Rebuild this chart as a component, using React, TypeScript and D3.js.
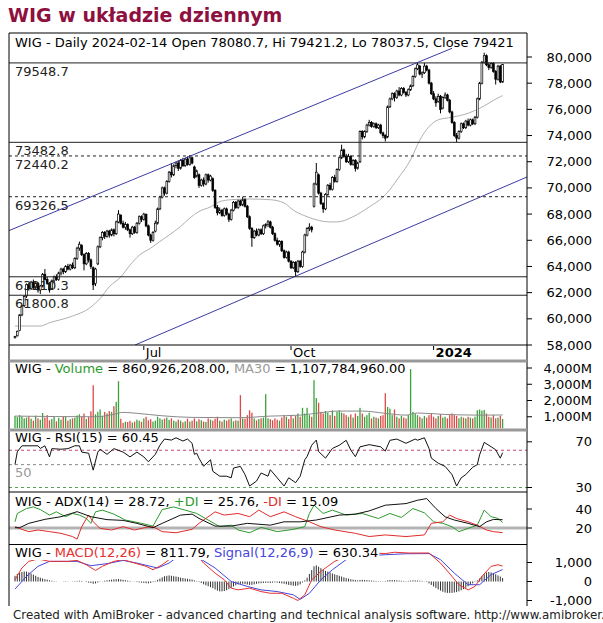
import React, { useEffect, useRef } from 'react';
import * as d3 from 'd3';

// ---- price data (daily candles) ----
const opens = [58550,58700,59100,60300,61000,61750,62600,62300,62800,62400,
 62700,62200,62500,63400,63000,62700,62300,62900,63200,63000,
 63500,63800,63600,64000,63800,64100,63900,64600,65400,65600,
 64900,64200,65000,64500,63900,62700,64200,65500,66200,66600,
 66300,66700,66400,66800,66500,67400,67900,67300,67000,67200,
 66800,66500,67000,66600,67300,67800,67600,68000,67100,66400,
 66000,66700,67300,68400,69300,70000,69600,70500,71200,71000,
 71700,71900,71500,72100,71700,72200,71800,72300,71600,70900,
 71000,70200,70600,70300,71000,70600,70700,69800,68500,68100,
 68300,67900,68400,68000,67600,68300,68900,68500,69000,68700,
 69100,68600,67800,66900,66200,66700,66400,66800,66500,67100,
 67200,67400,67000,66500,66000,65700,65900,65200,64700,65100,
 64400,63900,64300,63600,64400,64000,65100,66400,66900,67000,
 68600,70300,71000,69600,68800,68400,69500,70200,69900,70800,
 70500,71400,72300,72900,72400,72000,72400,71800,72100,71500,
 72000,74300,73900,74300,74800,75000,74700,74900,74600,74800,
 74200,74000,73900,76200,76800,77200,76900,77400,77100,77600,
 77300,77100,77500,77800,78500,79100,79300,78700,78800,79300,
 79000,78000,77200,76800,76600,77000,76100,76900,77100,76700,
 75800,75000,74000,73800,74300,74900,74600,75100,74800,75200,
 74900,75400,76800,78000,79600,80100,79400,79200,79500,78900,
 78300,79300,78080.7];
const highs = [58700,59100,60350,61050,61800,62700,62750,62900,63000,62800,
 62800,62600,63500,63800,63200,62800,63000,63300,63400,63600,
 63900,63900,64100,64200,64200,64300,64700,65500,65900,65700,
 65000,65100,65100,64600,64000,63900,65600,66300,66700,66700,
 66800,66800,66900,66900,67500,68300,68000,67500,67400,67300,
 66900,67100,67100,67400,67900,67900,68100,68000,67200,66500,
 66700,67500,68500,69400,70100,70100,70600,71300,71900,71800,
 72000,72100,72200,72300,72300,72400,72500,72400,71700,71400,
 71100,70700,70800,71100,71100,71000,70800,69900,68700,68500,
 68400,68500,68500,68100,68400,69000,69000,69100,69100,69330,
 69200,68700,67900,67000,66800,66900,66900,66900,67200,67300,
 67550,67500,67100,66600,66200,66000,66000,65300,65200,65200,
 64500,64400,64400,64500,64500,65200,66500,67000,67300,67100,
 70400,71900,71100,69700,68900,69600,70300,70400,70900,71000,
 71500,72400,73300,73000,72600,72600,72500,72200,72200,72000,
 74400,74400,74400,74900,75200,75100,75000,75000,74900,74900,
 74300,74100,76300,76900,77300,77300,77500,77700,77700,77700,
 77400,77600,77900,78600,79200,79550,79400,78900,79550,79400,
 79100,78100,77400,77000,77200,77100,77000,77300,77200,76800,
 75900,75100,74200,74400,75000,75000,75200,75300,75300,75300,
 75500,76900,78100,79700,80330,80200,79600,79600,79600,79000,
 79400,79400,79421.2];
const lows = [58500,58650,59050,60200,60900,61600,62150,62200,62300,62200,
 62000,61900,62400,62900,62600,62000,62200,62700,62900,62900,
 63300,63400,63500,63700,63700,63800,63800,64500,65200,64800,
 63700,64100,64300,63800,62200,62500,64100,65400,66000,66100,
 66200,66200,66300,66300,66400,67300,67200,66900,66800,66700,
 66200,66400,66500,66500,67200,67400,67500,67000,66300,65800,
 65900,66600,67200,68300,69200,69400,69500,70400,70800,70900,
 71500,71300,71400,71600,71600,71700,71700,71800,70700,70800,
 70000,70100,70100,70200,70400,70500,69700,68400,67900,68000,
 67800,67800,67900,67400,67500,68200,68400,68400,68600,68600,
 68500,67700,66800,65500,66100,66300,66300,66400,66400,66900,
 67000,66900,66400,65900,65600,65500,65100,64600,64600,64300,
 63800,63800,63250,63500,63900,63900,65000,66300,66700,66600,
 68500,70200,69500,68700,68100,68300,69400,69800,69800,70400,
 70400,71300,72200,72300,71900,71900,71700,71700,71250,71400,
 71900,73700,73800,74200,74700,74600,74600,74500,74500,74100,
 73800,73550,73800,76100,76700,76600,76800,77000,77000,77200,
 76950,77000,77400,77700,78400,79000,78600,78400,78700,78900,
 77900,77100,76700,76200,76500,75700,76000,76800,76600,75700,
 74900,73900,73500,73700,74200,74500,74500,74700,74700,74800,
 74800,75300,76700,77900,79500,79300,79000,79100,78800,77900,
 78200,78000,78037.5];
const closes = [58650,59050,60300,61000,61700,62600,62300,62800,62400,62700,
 62200,62500,63400,63000,62700,62200,62900,63200,63000,63500,
 63800,63600,64000,63800,64100,63900,64600,65400,65700,64900,
 64200,65000,64500,64000,62600,63800,65500,66200,66600,66300,
 66700,66400,66800,66500,67400,68000,67300,67000,67200,66800,
 66500,67000,66600,67300,67800,67600,68000,67100,66400,66000,
 66600,67300,68400,69300,70000,69600,70500,71200,71000,71700,
 71900,71500,72100,71700,72200,71800,72300,71900,70800,71300,
 70200,70600,70300,71000,70600,70900,69800,68500,68100,68300,
 67900,68400,68000,67600,68300,68900,68500,69000,68700,69100,
 68600,67800,66900,66200,66700,66400,66800,66500,67100,67200,
 67400,67000,66500,66000,65700,65900,65200,64700,65100,64400,
 63900,64300,63600,64400,64000,65100,66400,66900,67000,66800,
 70300,71200,69600,68800,68400,69500,70200,69900,70800,70500,
 71400,72300,72900,72400,72000,72400,71800,72100,71500,71900,
 74300,73900,74300,74800,75000,74700,74900,74600,74800,74200,
 74000,73800,76200,76800,77200,76900,77400,77100,77600,77300,
 77100,77500,77800,78500,79100,79400,78700,78800,79300,79000,
 78000,77200,76800,76500,77000,76000,76900,77100,76700,75800,
 75000,74000,73800,74300,74900,74600,75100,74800,75200,74900,
 75400,76800,78000,79600,80100,79400,79200,79500,78900,78300,
 79300,78100,79421];

// volume in millions
const volumes = [1050,980,1100,1020,900,950,1010,880,760,1070,
 900,820,1230,950,1100,780,860,1050,720,930,
 820,990,1010,760,850,900,940,1080,1150,1010,
 1200,860,980,1340,2940,1150,1300,1450,1050,1300,
 1200,1350,1300,1650,1920,3190,880,620,700,680,
 750,640,700,820,760,690,900,1000,780,850,
 700,760,1000,900,820,880,950,800,900,760,
 700,820,760,650,720,880,700,760,900,720,
 850,780,700,680,900,820,760,880,1000,760,
 700,820,760,840,900,720,780,760,2330,900,
 880,1100,1400,1250,900,780,860,900,950,2390,
 900,850,780,900,820,760,950,1100,1000,860,
 1100,900,1050,1200,1000,1550,1200,1550,1100,1000,
 3250,2150,1860,1300,1200,1350,1250,1100,1400,1050,
 1300,1400,1250,1200,1100,1000,1150,950,1200,1050,
 1550,1200,1000,1100,1250,900,1000,950,900,1050,
 1100,2450,1600,1500,1100,1450,1000,900,1050,950,
 900,1100,3930,1300,1200,1100,1000,900,1050,950,
 1100,1200,1000,900,1050,1150,950,1000,900,1100,
 1200,1100,1050,900,1000,950,900,1000,950,900,
 1000,1400,1450,1380,1420,1200,1000,950,1100,900,
 950,1050,861];
const volMaIdx = [0,35,43,47,53,64,77,97,111,124,133,141,151,161,170,175,186,202,212];
const volMaVal = [1040,1000,1150,1270,1210,1060,960,940,1040,1100,1250,1350,1350,1210,1100,1230,1150,1100,1108];

// price moving average
const maIdx = [0,11,15,24,33,37,41,46,50,54,59,63,67,72,76,80,85,89,94,102,111,117,121,127,137,140,147,154,160,164,166,172,176,180,184,190,197,202,211,212];
const maVal = [59450,59450,59700,60150,60900,61550,62450,63200,64100,64850,65400,65900,66400,67050,67700,68200,68550,68950,69100,69150,69100,68850,68300,67800,67400,67400,67800,68550,69300,70100,70600,72150,73650,74680,75200,75400,75700,76080,76970,77050];

// horizontal levels
const levelValues = [79548.7, 73482.8, 72440.2, 69326.5, 63210.3, 61800.8];
const levelLabels = ['79548.7', '73482.8', '72440.2', '69326.5', '63210.3', '61800.8'];
const levelDashed = [false, false, true, true, false, false];

// trend channel (bar index, price)
const channelUpper = [[-2.6, 66740], [190, 80665]];
const channelLower = [[52.2, 58000], [222.6, 70833]];

const priceTicks = [58000,60000,62000,64000,66000,68000,70000,72000,74000,76000,78000,80000];
const volTicks = [1000, 2000, 3000, 4000];
const rsiTicks = [70, 30];
const adxTicks = [40, 20];
const macdTicks = [1000, 0, -1000];
const macdTickLabels = ['1,000', '0', '-1,000'];
const dateTickIdx = [56, 120, 182];
const dateTickLabels = ['Jul', 'Oct', '2024'];

// RSI(15)
const rsiIdx = [0,1,3,10,11,13,15,16,20,23,26,28,29,32,34,36,37,40,43,47,50,53,56,58,61,63,65,68,70,73,75,77,78,79,80,82,85,86,89,92,94,95,98,100,102,105,107,110,111,114,117,119,122,124,126,127,129,131,132,135,138,141,144,146,148,150,154,159,161,163,166,170,174,175,178,180,181,184,187,190,192,194,196,199,201,202,204,207,209,211,212];
const rsiVal = [50.2,61.2,66.5,66.5,64.2,66.5,56.8,64,63.5,64,66.5,66.5,61,60,45.2,61,63.5,59,64,61,56.8,61,56.8,52.5,59,67,72.4,71.5,73.5,70.7,72.4,68.7,59,60,55.6,48.6,54.3,44.2,39.9,39.9,38.5,47,48.5,41.3,31.3,35.6,42.7,39.9,45.6,38.5,31.3,38.5,34.2,39.9,54.3,57.1,67,71.5,61.5,55.7,64.2,67,71.3,62.7,57,65.6,67.5,65.6,61.9,71.3,72.4,68.7,72.4,71.4,73.5,64.2,55.7,51.3,48.5,41.3,31.3,38.5,41.3,47.7,50,58.6,69.5,65.7,63,55.7,60.45];

// ADX(14), +DI, -DI
const adxIdx = [0,2,6,13,20,27,33,40,47,53,60,64,72,77,80,87,94,101,111,117,124,131,141,148,154,161,170,175,179,183,187,191,197,202,205,208,212];
const adxVal = [20.3,20.3,24.9,29.1,31.9,37.2,31.9,28.8,28,24.9,20.3,24.9,33.6,34.6,30.1,22,22,24.9,23,26.5,26.5,28.4,33.6,34.6,38,44,45.7,49.2,51,40.5,31.8,28.4,24.9,21.4,26.5,29,28.72];
const pdiIdx = [0,1,5,8,11,15,18,22,25,28,31,33,35,38,43,48,55,60,64,69,74,79,84,89,94,97,102,107,114,121,126,128,130,134,138,144,151,158,163,168,173,178,182,186,190,193,197,201,204,207,210,212];
const pdiVal = [26.5,35.3,40.5,42.2,39.4,33.6,37,31.9,35.3,33.6,30,24.9,37,38.8,34.6,28.4,24.9,22,39.4,42.2,38.8,35.3,28.4,21.4,23,17.9,15,20.7,16.2,18.6,21.4,35.3,44,35.3,38.8,33.6,35.3,30,35.3,31.1,40.5,36,26.5,24.9,21.4,16.2,19.6,23,38.8,31.9,30.1,25.76];
const mdiIdx = [0,3,6,10,15,20,25,27,29,32,34,37,42,47,52,57,60,64,70,77,80,87,91,97,102,106,111,117,122,128,133,139,148,154,161,170,178,181,186,189,192,197,201,205,208,212];
const mdiVal = [21.4,18.6,16.2,17.9,16.2,14.4,11,8.3,21.4,33.6,26.5,19.6,17.9,21.4,17.9,20.7,21.4,16.2,15,18.6,24.9,37,33.6,35.3,31.9,38.8,31.9,37,31.9,26.5,21.4,17.9,14.4,11,12.7,11,12.7,24.9,26.5,33.6,30,26.5,23,17.9,16.2,15.09];

// MACD(12,26), Signal(12,26,9), histogram
const macdIdx = [0,3,6,10,15,23,27,31,35,38,43,47,52,57,60,64,67,69,72,75,79,82,87,91,94,97,102,107,111,116,121,123,126,129,133,136,139,144,150,156,161,165,171,180,185,190,193,197,200,203,207,210,212];
const macdVal = [90,710,1060,1185,1060,1060,1110,880,580,800,1060,1150,970,800,620,880,1150,1320,1550,1600,1410,970,440,90,-350,-440,-350,-530,-620,-620,-880,-1000,-700,90,530,800,1060,1330,1450,1500,1470,1540,1500,1500,970,270,-170,-440,-260,270,800,880,811.79];
const sigIdx = [0,5,10,15,27,33,40,47,53,62,67,70,75,80,87,94,101,107,114,121,124,128,133,138,144,152,161,170,180,185,191,197,202,207,212];
const sigVal = [-400,270,800,1060,1060,830,940,1110,970,710,970,1240,1400,1240,710,0,-260,-440,-530,-700,-940,-620,90,620,1150,1350,1410,1460,1470,1150,440,-170,-170,360,630.34];
const hist = [300,400,450,500,530,520,480,420,360,300,
 240,200,160,120,100,60,40,20,10,0,
 0,10,20,10,0,10,20,30,40,30,
 0,-30,-60,-80,-120,-100,-60,-20,10,40,
 60,80,100,110,120,130,110,90,70,50,
 30,10,-10,-30,-50,-60,-80,-90,-100,-80,
 -30,30,90,150,220,280,300,320,300,280,
 260,240,200,180,160,140,120,100,60,20,
 -30,-80,-150,-200,-250,-300,-350,-420,-480,-520,
 -520,-500,-460,-400,-330,-260,-200,-150,-120,-120,
 -140,-160,-180,-180,-150,-120,-100,-90,-80,-70,
 -70,-80,-60,-50,-60,-80,-100,-120,-150,-180,
 -200,-220,-230,-210,-150,-50,60,200,400,600,
 800,850,780,700,620,560,520,480,420,380,
 340,300,260,220,180,150,120,100,80,60,
 80,90,80,70,60,50,40,30,20,20,
 10,30,60,80,80,70,60,50,40,30,
 20,30,50,60,60,50,40,30,10,-30,
 -100,-180,-260,-340,-420,-480,-540,-580,-600,-600,
 -600,-580,-560,-520,-460,-400,-330,-250,-180,-100,
 -20,60,160,280,380,470,500,480,440,380,
 320,260,181];

const FONT = '"DejaVu Sans", Verdana, sans-serif';

export default function App() {
  const ref = useRef<SVGSVGElement | null>(null);

  useEffect(() => {
    const root = d3.select(ref.current);
    root.selectAll('*').remove();
    const svg = root.append('g').attr('font-family', FONT);

    const L = 9, R = 527;
    const n = closes.length;
    const x = d3.scaleLinear().domain([0, n - 1]).range([15, 502.6]);
    const yP = d3.scaleLinear().domain([58000, 80000]).range([345, 57]);
    const yV = d3.scaleLinear().domain([0, 4000]).range([433, 368]);
    const yR = d3.scaleLinear().domain([30, 70]).range([487.5, 441.8]);
    const yA = d3.scaleLinear().domain([20, 40]).range([528, 509]);
    const yM = d3.scaleLinear().domain([-1000, 1000]).range([600.5, 562.5]);

    const defs = root.append('defs');
    const clip = (id: string, y0: number, y1: number) =>
      defs.append('clipPath').attr('id', id).append('rect')
        .attr('x', L).attr('y', y0).attr('width', R - L).attr('height', y1 - y0);
    clip('cMain', 33, 345);
    clip('cVol', 362.5, 428.5);
    clip('cRsi', 431.5, 491.5);
    clip('cAdx', 492.5, 544);
    clip('cMacd', 545, 606);

    const header = (g: any, yb: number, parts: [string, string][], bg: boolean) => {
      const t = g.append('text').attr('x', 15).attr('y', yb).attr('font-size', 13)
        .style('white-space', 'pre');
      parts.forEach(([s, c]) => t.append('tspan').attr('fill', c).text(s));
      if (bg) {
        const b = (t.node() as SVGTextElement).getBBox();
        g.insert('rect', () => t.node()).attr('x', b.x - 1).attr('y', b.y)
          .attr('width', b.width + 2).attr('height', b.height).attr('fill', '#fff');
      }
    };

    // Title
    svg.append('text').attr('x', 8).attr('y', 22).attr('font-size', 19)
      .attr('font-weight', 'bold').attr('fill', '#8e1040').text('WIG w układzie dziennym');

    // ===== Main price panel =====
    const gM = svg.append('g');
    const gMc = gM.append('g').attr('clip-path', 'url(#cMain)');
    levelValues.forEach((v, k) => {
      gM.append('line').attr('x1', L).attr('x2', R).attr('y1', yP(v)).attr('y2', yP(v))
        .attr('stroke', '#222').attr('stroke-width', 1)
        .attr('stroke-dasharray', levelDashed[k] ? '3,3' : null);
      gM.append('text').attr('x', 15).attr('y', yP(v) + 13).attr('font-size', 13)
        .attr('fill', '#222').text(levelLabels[k]);
    });
    const maLine = d3.line<number>().x((_, k) => x(maIdx[k])).y(d => yP(d)).curve(d3.curveMonotoneX);
    gMc.append('path').attr('d', maLine(maVal)).attr('fill', 'none').attr('stroke', '#b0b0b0').attr('stroke-width', 1);

    const cg = gMc.append('g');
    closes.forEach((c, i) => {
      const o = opens[i];
      const cx = x(i);
      cg.append('line').attr('x1', cx).attr('x2', cx).attr('y1', yP(highs[i])).attr('y2', yP(lows[i]))
        .attr('stroke', '#000').attr('stroke-width', 1);
      const top = yP(Math.max(o, c));
      const h = Math.max(0.8, Math.abs(yP(o) - yP(c)));
      cg.append('rect').attr('x', cx - 0.9).attr('y', top).attr('width', 1.8).attr('height', h)
        .attr('fill', c >= o ? '#fff' : '#000').attr('stroke', '#000').attr('stroke-width', 0.7);
    });

    gMc.append('line').attr('x1', x(channelLower[0][0])).attr('y1', yP(channelLower[0][1]))
      .attr('x2', x(channelLower[1][0])).attr('y2', yP(channelLower[1][1]))
      .attr('stroke', '#3b3ba6').attr('stroke-width', 1);
    gM.append('line').attr('x1', x(channelUpper[0][0])).attr('y1', yP(channelUpper[0][1]))
      .attr('x2', x(channelUpper[1][0])).attr('y2', yP(channelUpper[1][1]))
      .attr('stroke', '#3b3ba6').attr('stroke-width', 1);

    // x axis
    gM.append('line').attr('x1', L).attr('x2', R).attr('y1', 345).attr('y2', 345).attr('stroke', '#000');
    dateTickIdx.forEach((di, k) => {
      const tx = x(di);
      gM.append('line').attr('x1', tx).attr('x2', tx).attr('y1', 346).attr('y2', 350).attr('stroke', '#000');
      gM.append('text').attr('x', tx + 2).attr('y', 357).attr('font-size', 13)
        .attr('font-weight', k === 2 ? 'bold' : 'normal').text(dateTickLabels[k]);
    });
    // price axis
    priceTicks.forEach(v => {
      gM.append('line').attr('x1', R).attr('x2', R + 5).attr('y1', yP(v)).attr('y2', yP(v)).attr('stroke', '#000');
      gM.append('text').attr('x', 592).attr('y', yP(v) + 4.5).attr('font-size', 13)
        .attr('text-anchor', 'end').text(d3.format(',')(v));
    });
    header(gM, 46.5, [['WIG - Daily 2024-02-14 Open 78080.7, Hi 79421.2, Lo 78037.5, Close 79421', '#000']], false);

    // ===== Volume =====
    const gV = svg.append('g');
    const gVc = gV.append('g').attr('clip-path', 'url(#cVol)');
    volumes.forEach((v, i) => {
      gVc.append('rect').attr('x', x(i) - 0.65).attr('width', 1.3)
        .attr('y', yV(v)).attr('height', Math.max(0, 428.5 - yV(v)))
        .attr('fill', closes[i] >= opens[i] ? '#3aa23a' : '#e04848');
    });
    const vmaLine = d3.line<number>().x((_, k) => x(volMaIdx[k])).y(d => yV(d)).curve(d3.curveMonotoneX);
    gVc.append('path').attr('d', vmaLine(volMaVal)).attr('fill', 'none').attr('stroke', '#8a8a8a').attr('stroke-width', 1);
    volTicks.forEach(v => {
      gV.append('line').attr('x1', R).attr('x2', R + 5).attr('y1', yV(v)).attr('y2', yV(v)).attr('stroke', '#000');
      gV.append('text').attr('x', 592).attr('y', yV(v) + 4.5).attr('font-size', 13)
        .attr('text-anchor', 'end').text(d3.format(',')(v) + 'M');
    });
    header(gV, 372.5, [['WIG - ', '#000'], ['Volume', '#2e9a2e'], [' = 860,926,208.00, ', '#000'], ['MA30', '#999'], [' = 1,107,784,960.00', '#000']], false);

    // ===== RSI =====
    const gR = svg.append('g');
    const gRc = gR.append('g').attr('clip-path', 'url(#cRsi)');
    const rsiLines: [number, string][] = [[62.6, '#c24a6a'], [50, '#888'], [30, '#5aa05a']];
    rsiLines.forEach(([v, c]) => {
      gRc.append('line').attr('x1', L).attr('x2', R).attr('y1', yR(v)).attr('y2', yR(v))
        .attr('stroke', c).attr('stroke-dasharray', '3,3');
    });
    gR.append('text').attr('x', 15).attr('y', 476.5).attr('font-size', 13).attr('fill', '#999').text('50');
    const rsiLine = d3.line<number>().x((_, k) => x(rsiIdx[k])).y(d => yR(d));
    gRc.append('path').attr('d', rsiLine(rsiVal)).attr('fill', 'none').attr('stroke', '#111').attr('stroke-width', 1);
    rsiTicks.forEach(v => {
      gR.append('line').attr('x1', R).attr('x2', R + 5).attr('y1', yR(v)).attr('y2', yR(v)).attr('stroke', '#000');
      gR.append('text').attr('x', 592).attr('y', yR(v) + 4.5).attr('font-size', 13).attr('text-anchor', 'end').text(String(v));
    });
    header(gR, 441.5, [['WIG - RSI(15) = 60.45', '#000']], false);

    // ===== ADX =====
    const gA = svg.append('g');
    const gAc = gA.append('g').attr('clip-path', 'url(#cAdx)');
    gAc.append('line').attr('x1', L).attr('x2', R).attr('y1', yA(20)).attr('y2', yA(20))
      .attr('stroke', '#b4b4b4').attr('stroke-width', 3);
    const mk = (idx: number[]) => d3.line<number>().x((_, k) => x(idx[k])).y(d => yA(d));
    gAc.append('path').attr('d', mk(pdiIdx)(pdiVal)).attr('fill', 'none').attr('stroke', '#2d9a2d');
    gAc.append('path').attr('d', mk(mdiIdx)(mdiVal)).attr('fill', 'none').attr('stroke', '#e02c2c');
    gAc.append('path').attr('d', mk(adxIdx)(adxVal)).attr('fill', 'none').attr('stroke', '#111');
    adxTicks.forEach(v => {
      gA.append('line').attr('x1', R).attr('x2', R + 5).attr('y1', yA(v)).attr('y2', yA(v)).attr('stroke', '#000');
      gA.append('text').attr('x', 592).attr('y', yA(v) + 4.5).attr('font-size', 13).attr('text-anchor', 'end').text(String(v));
    });
    header(gA, 505.5, [['WIG - ADX(14) = 28.72, ', '#000'], ['+DI', '#2d9a2d'], [' = 25.76, ', '#000'], ['-DI', '#e02c2c'], [' = 15.09', '#000']], false);

    // ===== MACD =====
    const gD = svg.append('g');
    const gDc = gD.append('g').attr('clip-path', 'url(#cMacd)');
    hist.forEach((h, i) => {
      gDc.append('line').attr('x1', x(i)).attr('x2', x(i)).attr('y1', yM(0)).attr('y2', yM(h))
        .attr('stroke', '#333').attr('stroke-width', 1);
    });
    const mkM = (idx: number[]) => d3.line<number>().x((_, k) => x(idx[k])).y(d => yM(d));
    gDc.append('path').attr('d', mkM(sigIdx)(sigVal)).attr('fill', 'none').attr('stroke', '#4646dc');
    gDc.append('path').attr('d', mkM(macdIdx)(macdVal)).attr('fill', 'none').attr('stroke', '#e63030');
    macdTicks.forEach((v, k) => {
      gD.append('line').attr('x1', R).attr('x2', R + 5).attr('y1', yM(v)).attr('y2', yM(v)).attr('stroke', '#000');
      gD.append('text').attr('x', 592).attr('y', yM(v) + 4.5).attr('font-size', 13).attr('text-anchor', 'end').text(macdTickLabels[k]);
    });
    header(gD, 557, [['WIG - ', '#000'], ['MACD(12,26)', '#e63030'], [' = 811.79, ', '#000'], ['Signal(12,26,9)', '#4646dc'], [' = 630.34', '#000']], true);

    // ===== frames & separators =====
    const fr = svg.append('g');
    fr.append('line').attr('x1', L).attr('x2', R).attr('y1', 33).attr('y2', 33).attr('stroke', '#000');
    fr.append('line').attr('x1', L).attr('x2', L).attr('y1', 33).attr('y2', 606).attr('stroke', '#000');
    fr.append('line').attr('x1', R).attr('x2', R).attr('y1', 33).attr('y2', 606).attr('stroke', '#000');
    fr.append('line').attr('x1', L).attr('x2', R).attr('y1', 361).attr('y2', 361).attr('stroke', '#999').attr('stroke-width', 3);
    fr.append('line').attr('x1', L).attr('x2', R).attr('y1', 430).attr('y2', 430).attr('stroke', '#999').attr('stroke-width', 3);
    fr.append('line').attr('x1', L).attr('x2', R).attr('y1', 492).attr('y2', 492).attr('stroke', '#000');
    fr.append('line').attr('x1', L).attr('x2', R).attr('y1', 544.5).attr('y2', 544.5).attr('stroke', '#000');

    svg.append('text').attr('x', 13).attr('y', 619).attr('font-size', 11.85).attr('fill', '#222')
      .text('Created with AmiBroker - advanced charting and technical analysis software. http://www.amibroker.com/');
  }, []);

  return (
    <svg ref={ref} width={603} height={623}
      style={{ position: 'absolute', left: 0, top: 0, background: '#fff' }} />
  );
}
